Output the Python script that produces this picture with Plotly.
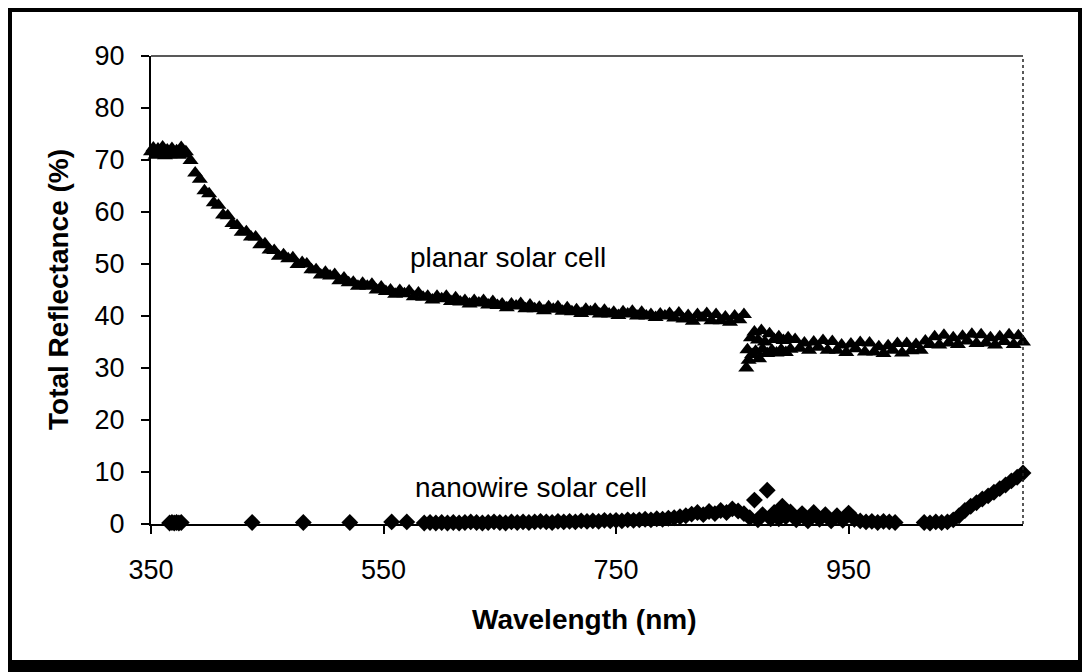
import plotly.graph_objects as go

# ---------------- data ----------------
planar_wl = [
    350, 352, 354, 356, 358, 360, 362, 364, 366, 368, 370, 372, 374, 376, 378, 380,
    384, 388, 392, 396, 400, 404, 408, 412, 416, 420, 424, 428, 432, 436, 440, 444,
    448, 452, 456, 460, 464, 468, 472, 476, 480,
    484, 488, 492, 496, 500, 504, 508, 512, 516, 520, 524, 528, 532, 536, 540, 544,
    548, 552, 556, 560, 564, 568, 572, 576, 580, 584, 588, 592, 596, 600, 604, 608,
    612, 616, 620, 624, 628, 632, 636, 640, 644, 648, 652, 656, 660, 664, 668, 672,
    676, 680, 684, 688, 692, 696, 700, 704, 708, 712, 716, 720, 724, 728, 732, 736,
    740, 744, 748, 752, 756, 760, 764, 768, 772, 776, 780, 784, 788, 792, 796, 800,
    804, 808, 812, 816, 820, 824, 828, 832, 836, 840, 844, 848, 852, 856, 860,
    862, 863, 864, 866, 867, 869, 870, 872, 873, 875, 876, 878, 880, 882, 884, 886,
    888, 890, 892, 894, 896, 898, 900,
    904, 908, 912, 916, 920, 924, 928, 932, 936, 940, 944, 948, 952, 956, 960, 964,
    968, 972, 976, 980, 984, 988, 992, 996, 1000, 1004, 1008, 1012, 1016, 1020, 1024,
    1028, 1032, 1036, 1040, 1044, 1048, 1052, 1056, 1060, 1064, 1068, 1072, 1076,
    1080, 1084, 1088, 1092, 1096, 1100]
planar_r = [
    71.6, 72.3, 70.9, 72.1, 71.2, 72.5, 70.8, 71.9, 71.0, 72.2, 71.3, 71.8, 70.9, 72.4, 71.1, 71.6,
    69.9, 67.5, 66.3, 64.1, 63.5, 61.8, 61.3, 59.4, 59.3, 57.8, 57.4, 56.1, 56.2, 55.2, 55.2, 53.7,
    53.9, 52.7, 52.6, 51.5, 51.8, 51.0, 51.2, 49.9, 50.3,
    50.0, 48.9, 48.9, 47.9, 48.4, 47.7, 48.0, 46.8, 47.3, 46.4, 46.5, 45.7, 46.3, 45.7, 46.1, 45.0,
    45.6, 44.7, 45.0, 44.2, 44.9, 44.3, 44.8, 43.7, 44.4, 43.6, 43.8, 43.1, 43.8, 43.3, 43.8, 42.8,
    43.5, 42.7, 43.0, 42.3, 43.0, 42.5, 43.0, 42.1, 42.8, 42.0, 42.3, 41.6, 42.3, 41.9, 42.4, 41.4,
    42.1, 41.4, 41.7, 41.0, 41.8, 41.3, 41.8, 40.9, 41.6, 40.8, 41.2, 40.5, 41.3, 40.8, 41.3, 40.4,
    41.1, 40.4, 40.7, 40.1, 40.8, 40.4, 40.9, 40.0, 40.7, 40.0, 40.3, 39.7, 40.4, 40.0, 40.5, 39.6,
    40.6, 39.4, 40.1, 39.0, 40.3, 39.6, 40.5, 39.1, 40.3, 39.1, 39.8, 38.8, 40.0, 39.3, 40.3,
    30.0, 33.5, 31.5, 35.8, 32.6, 36.9, 33.2, 35.4, 31.8, 37.2, 33.6, 35.0, 32.8, 36.6, 33.4, 35.5,
    32.9, 36.0, 33.5, 35.3, 33.0, 35.8, 33.6,
    35.5, 33.8, 34.8, 33.4, 35.0, 34.0, 35.3, 33.4, 35.1, 33.4, 34.4, 33.0, 34.6, 33.7, 34.9, 33.1,
    34.8, 33.1, 34.1, 32.8, 34.3, 33.4, 34.7, 32.9, 34.7, 33.3, 34.5, 33.4, 35.2, 34.5, 36.0,
    34.4, 36.3, 34.8, 35.8, 34.5, 36.1, 35.2, 36.5, 34.7, 36.4, 34.8, 35.8, 34.4,
    36.0, 35.1, 36.4, 34.5, 36.2, 35.0]

nano_wl = [
    366, 368, 370, 372, 374, 376, 437, 481, 521, 557, 570,
    585, 590, 595, 600, 605, 610, 615, 620, 625, 630, 635, 640, 645, 650,
    655, 660, 665, 670, 675, 680, 685, 690, 695, 700, 705, 710, 715, 720,
    725, 730, 735, 740, 745, 750, 755, 760, 765, 770, 775, 780, 785, 790,
    795, 800, 805, 810, 815, 820, 825, 830, 835, 840, 845, 850, 855, 860,
    865, 869, 872, 876, 880, 883, 886, 890, 893, 896, 900, 905, 910, 915,
    920, 925, 930, 935, 940, 945, 950, 955, 960, 965, 970, 975, 980, 985,
    990, 1015, 1020, 1025, 1030, 1035, 1040, 1045, 1050, 1055, 1060, 1065,
    1070, 1075, 1080, 1085, 1090, 1095, 1100]
nano_r = [
    0.2, 0.3, 0.2, 0.3, 0.2, 0.3, 0.3, 0.3, 0.3, 0.4, 0.4,
    0.2, 0.3, 0.2, 0.3, 0.2, 0.3, 0.2, 0.3, 0.4, 0.3, 0.2, 0.3, 0.4, 0.3,
    0.2, 0.4, 0.3, 0.4, 0.3, 0.4, 0.5, 0.4, 0.3, 0.5, 0.4, 0.5, 0.4, 0.6,
    0.5, 0.6, 0.5, 0.7, 0.6, 0.7, 0.6, 0.8, 0.7, 0.8, 0.9, 0.8, 1.0, 0.9,
    1.1, 1.2, 1.4, 1.6, 1.9, 2.2, 1.8, 2.4, 2.0, 2.6, 2.2, 2.9, 2.5, 2.0,
    1.2, 4.6, 0.8, 1.8, 6.5, 1.0, 2.2, 1.0, 3.4, 1.4, 2.3, 0.8, 2.0, 0.6,
    2.2, 0.9, 1.8, 0.6, 1.6, 0.7, 2.1, 0.9, 0.6, 0.4, 0.5, 0.3, 0.5, 0.4,
    0.3, 0.3, 0.2, 0.4, 0.3, 0.4, 0.8, 1.6, 2.6, 3.4, 4.1, 4.8,
    5.4, 6.1, 6.8, 7.5, 8.3, 9.0, 9.8]

x_ticks = [350, 550, 750, 950]
y_ticks = [0, 10, 20, 30, 40, 50, 60, 70, 80, 90]

assert len(planar_wl) == len(planar_r), (len(planar_wl), len(planar_r))
assert len(nano_wl) == len(nano_r), (len(nano_wl), len(nano_r))

# ---------------- layout geometry ----------------
# the page body has an 8px margin, so the figure is sized to end at the window edge
OFF = 8
W, H = 1090 - OFF, 672 - OFF
L, R, T, B = 151 - OFF, 67, 56 - OFF, 148
PW, PH = W - L - R, H - T - B


def px_x(p):          # page pixel -> paper x
    return (p - OFF - L) / PW


def px_y(p):          # page pixel -> paper y
    return (H - B - (p - OFF)) / PH


FONT = "Liberation Sans, Arial, sans-serif"

fig = go.Figure()
fig.add_trace(go.Scatter(
    x=planar_wl, y=planar_r, mode="markers", name="planar solar cell",
    marker=dict(symbol="triangle-up", size=14, color="black"),
    cliponaxis=False, showlegend=False))
fig.add_trace(go.Scatter(
    x=nano_wl, y=nano_r, mode="markers", name="nanowire solar cell",
    marker=dict(symbol="diamond", size=13, color="black"),
    cliponaxis=False, showlegend=False))

fig.update_layout(
    width=W, height=H,
    margin=dict(l=L, r=R, t=T, b=B, pad=0),
    paper_bgcolor="white", plot_bgcolor="white",
    font=dict(family=FONT, size=27, color="black"),
    xaxis=dict(range=[350, 1100], tickvals=x_ticks, ticktext=[str(v) for v in x_ticks],
               showgrid=False, zeroline=False, showline=True, linecolor="black",
               linewidth=2, ticks="outside", ticklen=8, tickwidth=1.5,
               tickcolor="black", ticklabelstandoff=13,
               tickfont=dict(family=FONT, size=27, color="black")),
    yaxis=dict(range=[0, 90], tickvals=y_ticks, ticktext=[str(v) for v in y_ticks],
               showgrid=False, zeroline=False, showline=True, linecolor="black",
               linewidth=2, ticks="outside", ticklen=8, tickwidth=1.5,
               tickcolor="black", ticklabelstandoff=11,
               tickfont=dict(family=FONT, size=27, color="black")),
    shapes=[
        dict(type="line", xref="paper", yref="paper", x0=0, x1=1, y0=1, y1=1,
             line=dict(color="#222", width=1.5)),
        dict(type="line", xref="paper", yref="paper", x0=1, x1=1, y0=0, y1=1,
             line=dict(color="#222", width=1.5, dash="dot")),
        # thick black frame round the whole picture
        dict(type="rect", xref="paper", yref="paper",
             x0=px_x(6), x1=px_x(1084), y0=px_y(666), y1=px_y(6),
             line=dict(color="black", width=12)),
    ],
    annotations=[
        dict(text="planar solar cell", x=657, y=51.2, xref="x", yref="y",
             xanchor="center", yanchor="middle", showarrow=False,
             font=dict(family=FONT, size=28, color="black")),
        dict(text="nanowire solar cell", x=677, y=7.1, xref="x", yref="y",
             xanchor="center", yanchor="middle", showarrow=False,
             font=dict(family=FONT, size=28, color="black")),
        dict(text="<b>Wavelength (nm)</b>", x=px_x(584), y=px_y(619),
             xref="paper", yref="paper", xanchor="center", yanchor="middle",
             showarrow=False, font=dict(family=FONT, size=28, color="black")),
        dict(text="<b>Total Reflectance (%)</b>", x=px_x(58), y=px_y(290),
             xref="paper", yref="paper", xanchor="center", yanchor="middle",
             showarrow=False, textangle=-90,
             font=dict(family=FONT, size=28, color="black")),
    ],
)

fig.write_html("out.html")
